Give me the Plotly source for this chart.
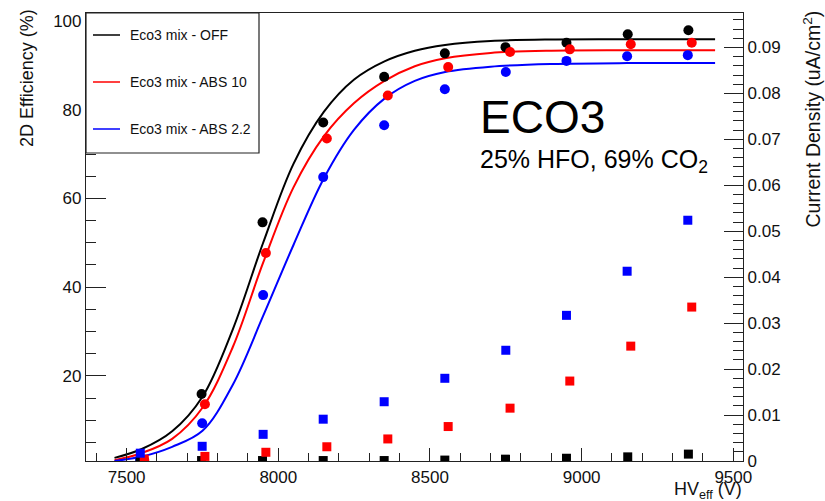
import plotly.graph_objects as go

# ---------------- data ----------------
series_names = ["Eco3 mix - OFF", "Eco3 mix - ABS 10", "Eco3 mix - ABS 2.2"]
colors = ["#000000", "#ff0000", "#0000ff"]

# HV_eff points (V) for each configuration
hv_off = [7545, 7747, 7948, 8148, 8349, 8549, 8749, 8950, 9152, 9352]
hv_abs10 = [7558, 7758, 7959, 8160, 8361, 8560, 8764, 8961, 9162, 9363]
hv_abs22 = [7545, 7749, 7950, 8148, 8349, 8549, 8750, 8950, 9150, 9350]

# 2D efficiency (%)
eff_off = [1.0, 15.9, 54.6, 77.1, 87.4, 92.7, 94.1, 95.1, 97.0, 97.9]
eff_abs10 = [1.0, 13.6, 47.7, 73.5, 83.2, 89.6, 93.0, 93.6, 94.75, 95.1]
eff_abs22 = [1.2, 9.3, 38.2, 64.8, 76.5, 84.6, 88.5, 91.0, 92.05, 92.3]

# current density (uA/cm^2)
cur_off = [0.0, 0.0001, 0.0001, 0.0001, 0.0001, 0.0002, 0.0004, 0.0006, 0.0009, 0.0015]
cur_abs10 = [0.0004, 0.0010, 0.0019, 0.0031, 0.0048, 0.0075, 0.0115, 0.0174, 0.0250, 0.0335]
cur_abs22 = [0.0017, 0.0032, 0.0058, 0.0091, 0.0129, 0.0180, 0.0241, 0.0317, 0.0413, 0.0524]

# fitted efficiency curves
fit_hv = [7460, 7550, 7650, 7750, 7850, 7950, 8050, 8150, 8250, 8350, 8450, 8550, 8700, 8900, 9150, 9440]
fit_off = [1.5, 3.5, 7.5, 15.3, 30.5, 50.0, 67.8, 79.5, 86.8, 90.9, 93.3, 94.6, 95.5, 95.85, 95.9, 95.9]
fit_abs10 = [1.0, 2.6, 5.8, 12.8, 26.5, 45.5, 62.5, 74.0, 81.5, 86.5, 89.8, 91.6, 92.8, 93.3, 93.4, 93.4]
fit_abs22 = [0.8, 1.8, 4.0, 7.6, 18.0, 33.5, 49.5, 64.5, 75.5, 82.5, 86.5, 88.5, 89.7, 90.3, 90.5, 90.5]

x_ticks = [7500, 8000, 8500, 9000, 9500]

hv_all = [hv_off, hv_abs10, hv_abs22]
eff_all = [eff_off, eff_abs10, eff_abs22]
cur_all = [cur_off, cur_abs10, cur_abs22]
fit_all = [fit_off, fit_abs10, fit_abs22]

# ---------------- layout helpers ----------------
W, H = 825, 501
L, R, T, B = 86, 743, 13, 461


def px(x):
    return (x - L) / (R - L)


def py(y):
    return (B - y) / (B - T)


FONT = "Liberation Sans, Arial, Helvetica, sans-serif"

fig = go.Figure()

# fit curves
for i in range(3):
    fig.add_trace(go.Scatter(x=fit_hv, y=fit_all[i], mode="lines", line=dict(color=colors[i], width=2, shape="spline", smoothing=1.0),
                             showlegend=False, hoverinfo="skip"))
# efficiency points
for i in range(3):
    fig.add_trace(go.Scatter(x=hv_all[i], y=eff_all[i], mode="markers", marker=dict(color=colors[i], size=10, symbol="circle"),
                             showlegend=False))
# current density squares
for i in range(3):
    fig.add_trace(go.Scatter(x=hv_all[i], y=cur_all[i], mode="markers", yaxis="y2", marker=dict(color=colors[i], size=9, symbol="square"),
                             showlegend=False))

axis_common = dict(showline=True, linecolor="#222", linewidth=1.2, showgrid=False, zeroline=False,
                   tickfont=dict(family=FONT, size=17, color="#111"), tickcolor="#222", tickwidth=1.2)

fig.update_layout(
    width=W, height=H,
    margin=dict(l=L, r=W - R, t=T, b=H - B),
    paper_bgcolor="white", plot_bgcolor="white",
    font=dict(family=FONT, color="#111"),
    xaxis=dict(range=[7366, 9532], tickmode="array", tickvals=x_ticks, ticks="inside", ticklen=13,
               mirror=True,
               minor=dict(dtick=100, tick0=7500, ticks="inside", ticklen=8, tickcolor="#222", tickwidth=1),
               **axis_common),
    yaxis=dict(range=[0.8, 101.8], dtick=20, tick0=0, ticks="inside", ticklen=20, mirror=True,
               minor=dict(dtick=5, tick0=0, ticks="inside", ticklen=10, tickcolor="#222", tickwidth=1),
               **axis_common),
    yaxis2=dict(range=[0, 0.0975], dtick=0.01, tick0=0, ticks="inside", ticklen=19, overlaying="y", side="right",
                minor=dict(dtick=0.002, tick0=0, ticks="inside", ticklen=10, tickcolor="#222", tickwidth=1),
                **axis_common),
    showlegend=False,
)

# legend box (drawn manually, ROOT style)
fig.add_shape(type="rect", xref="paper", yref="paper", x0=0, x1=px(259), y0=py(153), y1=1,
              line=dict(color="#222", width=1.2), fillcolor="white", layer="above")
leg_y = [35, 82, 129]
for i in range(3):
    fig.add_shape(type="line", xref="paper", yref="paper", x0=px(93), x1=px(120), y0=py(leg_y[i]), y1=py(leg_y[i]),
                  line=dict(color=colors[i], width=1.5), layer="above")
    fig.add_annotation(xref="paper", yref="paper", x=px(128), y=py(leg_y[i]), text=series_names[i], showarrow=False,
                       xanchor="left", yanchor="middle", font=dict(family=FONT, size=14, color="#111"))

# axis titles
fig.add_annotation(xref="paper", yref="paper", x=px(27), y=py(7), text="2D Efficiency (%)", textangle=-90,
                   showarrow=False, xanchor="center", yanchor="top", font=dict(family=FONT, size=18, color="#111"))
fig.add_annotation(xref="paper", yref="paper", x=px(811), y=py(9), text="Current Density (uA/cm<sup>2</sup>)", textangle=-90,
                   showarrow=False, xanchor="center", yanchor="top", font=dict(family=FONT, size=19.5, color="#111"))
fig.add_annotation(xref="paper", yref="paper", x=px(744), y=py(490), text="HV<sub>eff</sub> (V)",
                   showarrow=False, xanchor="right", yanchor="middle", font=dict(family=FONT, size=18, color="#111"))

# in-plot labels
fig.add_annotation(xref="paper", yref="paper", x=px(478), y=py(117), text="ECO3",
                   showarrow=False, xanchor="left", yanchor="middle", font=dict(family=FONT, size=46, color="#000"))
fig.add_annotation(xref="paper", yref="paper", x=px(478), y=py(161), text="25% HFO, 69% CO<sub>2</sub>",
                   showarrow=False, xanchor="left", yanchor="middle", font=dict(family=FONT, size=25, color="#000"))

fig.write_html("out.html")
